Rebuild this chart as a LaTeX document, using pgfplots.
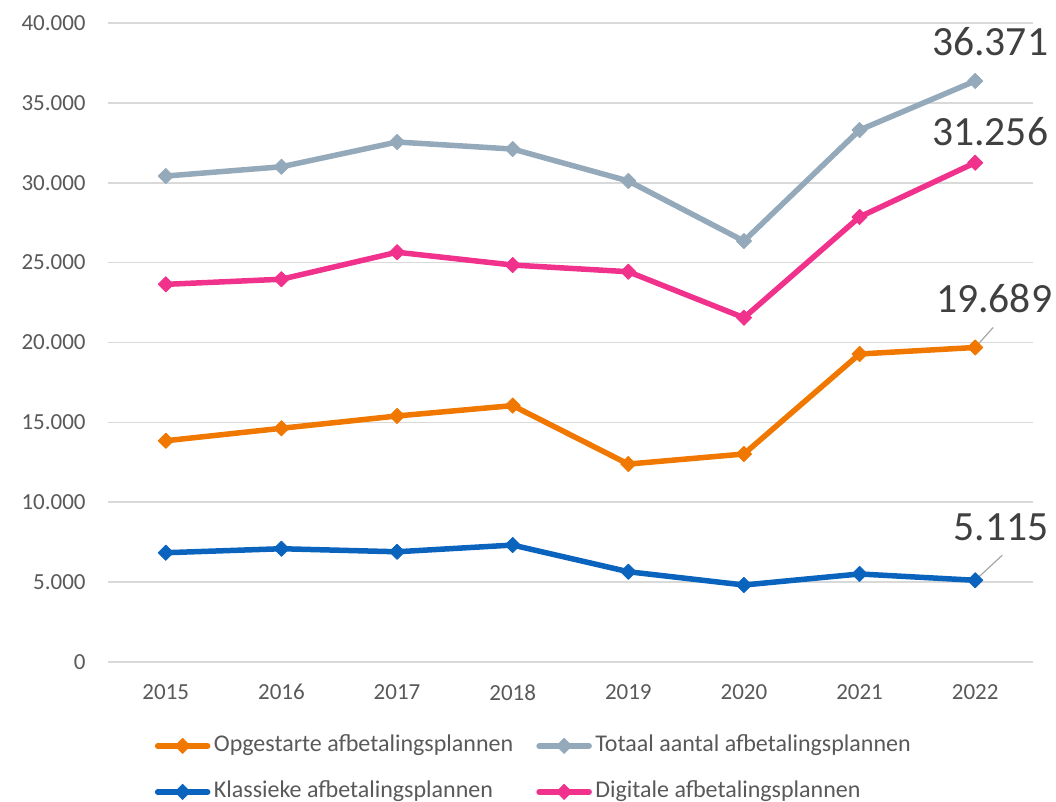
\documentclass[border=0pt]{standalone}
\usepackage{pgfplots}
\pgfplotsset{compat=1.18}
\usepackage{fontspec}
\setmainfont{Carlito}
\definecolor{cOrange}{HTML}{F07800}
\definecolor{cGrey}{HTML}{94AABB}
\definecolor{cPink}{HTML}{F0328C}
\definecolor{cBlue}{HTML}{0A64BE}
\definecolor{cGrid}{HTML}{D9D9D9}
\definecolor{cTick}{HTML}{595959}
\definecolor{cLab}{HTML}{404040}
\definecolor{cLead}{HTML}{A6A6A6}

\pgfplotstableread{
x opg tot kla dig
0 13850 30420 6840 23640
1 14630 31000 7090 23960
2 15400 32550 6900 25650
3 16050 32110 7320 24850
4 12390 30110 5650 24430
5 13020 26350 4820 21550
6 19280 33300 5510 27860
7 19689 36371 5115 31256
}\datatable

\begin{document}
\begin{tikzpicture}
\begin{axis}[
  scale only axis, width=462.5pt, height=319.5pt,
  xmin=-0.5, xmax=7.5, ymin=0, ymax=40000,
  xtick={0,1,2,3,4,5,6,7},
  xticklabels={2015,2016,2017,2018,2019,2020,2021,2022},
  ytick={0,5000,10000,15000,20000,25000,30000,35000,40000},
  scaled y ticks=false,
  axis line style={draw=none},
  major tick length=0pt,
  ymajorgrids, grid style={cGrid, line width=0.75pt},
  tick label style={font=\fontsize{11.5}{13}\selectfont, text=cTick, inner sep=0pt},
  /pgf/number format/1000 sep={.},
  /pgf/number format/assume math mode=true,
  xticklabel shift=11pt, yticklabel shift=11pt,
  clip=false,
  legend columns=2,
  legend cell align=left,
  legend style={at={(rel axis cs:0,0)}, anchor=north west, xshift=22pt, yshift=-36pt,
    draw=none, fill=none, inner sep=0pt, font=\fontsize{12}{14}\selectfont, text=cTick,
    /tikz/column sep=0pt, /tikz/row sep=11.5pt,
    nodes={inner sep=0pt, text height=8.5pt, text depth=3pt}},
  legend image code/.code={
    \path (0pt,0pt) (27.5pt,0pt);
    \draw[mark repeat=2, mark phase=2, #1, line cap=round] plot coordinates {(1.25pt,0pt) (13.75pt,0pt) (26.25pt,0pt)};
  },
  every axis plot/.append style={line width=2.75pt, line join=round, mark=square*, mark size=2.7pt},
]
\addplot[cOrange, mark options={fill=cOrange, rotate=45, line width=0.4pt}] table[x=x, y=opg] {\datatable};
\addlegendentry{\hspace{0.5pt}\makebox[160pt][l]{Opgestarte afbetalingsplannen}}
\addplot[cGrey, mark options={fill=cGrey, rotate=45, line width=0.4pt}] table[x=x, y=tot] {\datatable};
\addlegendentry{\hspace{0.5pt}Totaal aantal afbetalingsplannen}
\addplot[cBlue, mark options={fill=cBlue, rotate=45, line width=0.4pt}] table[x=x, y=kla] {\datatable};
\addlegendentry{\hspace{0.5pt}\makebox[160pt][l]{Klassieke afbetalingsplannen}}
\addplot[cPink, mark options={fill=cPink, rotate=45, line width=0.4pt}] table[x=x, y=dig] {\datatable};
\addlegendentry{\hspace{0.5pt}Digitale afbetalingsplannen}

\draw[cLead, line width=0.6pt] (axis cs:7,19689) -- ++(9pt,10pt);
\draw[cLead, line width=0.6pt] (axis cs:7,5115) -- ++(13.5pt,12.5pt);
\node[anchor=base, inner sep=0pt, font=\fontsize{20.8}{24}\selectfont, text=cLab, xshift=7.5pt, yshift=12.5pt] at (axis cs:7,36371) {36.371};
\node[anchor=base, inner sep=0pt, font=\fontsize{20.8}{24}\selectfont, text=cLab, xshift=7.5pt, yshift=8.5pt] at (axis cs:7,31256) {31.256};
\node[anchor=base, inner sep=0pt, font=\fontsize{20.8}{24}\selectfont, text=cLab, xshift=9.5pt, yshift=17.5pt] at (axis cs:7,19689) {19.689};
\node[anchor=base, inner sep=0pt, font=\fontsize{20.8}{24}\selectfont, text=cLab, xshift=13pt, yshift=20pt] at (axis cs:7,5115) {5.115};
\end{axis}
\pgfresetboundingbox
\useasboundingbox (-54pt,-70pt) rectangle (474pt,331pt);
\end{tikzpicture}
\end{document}
